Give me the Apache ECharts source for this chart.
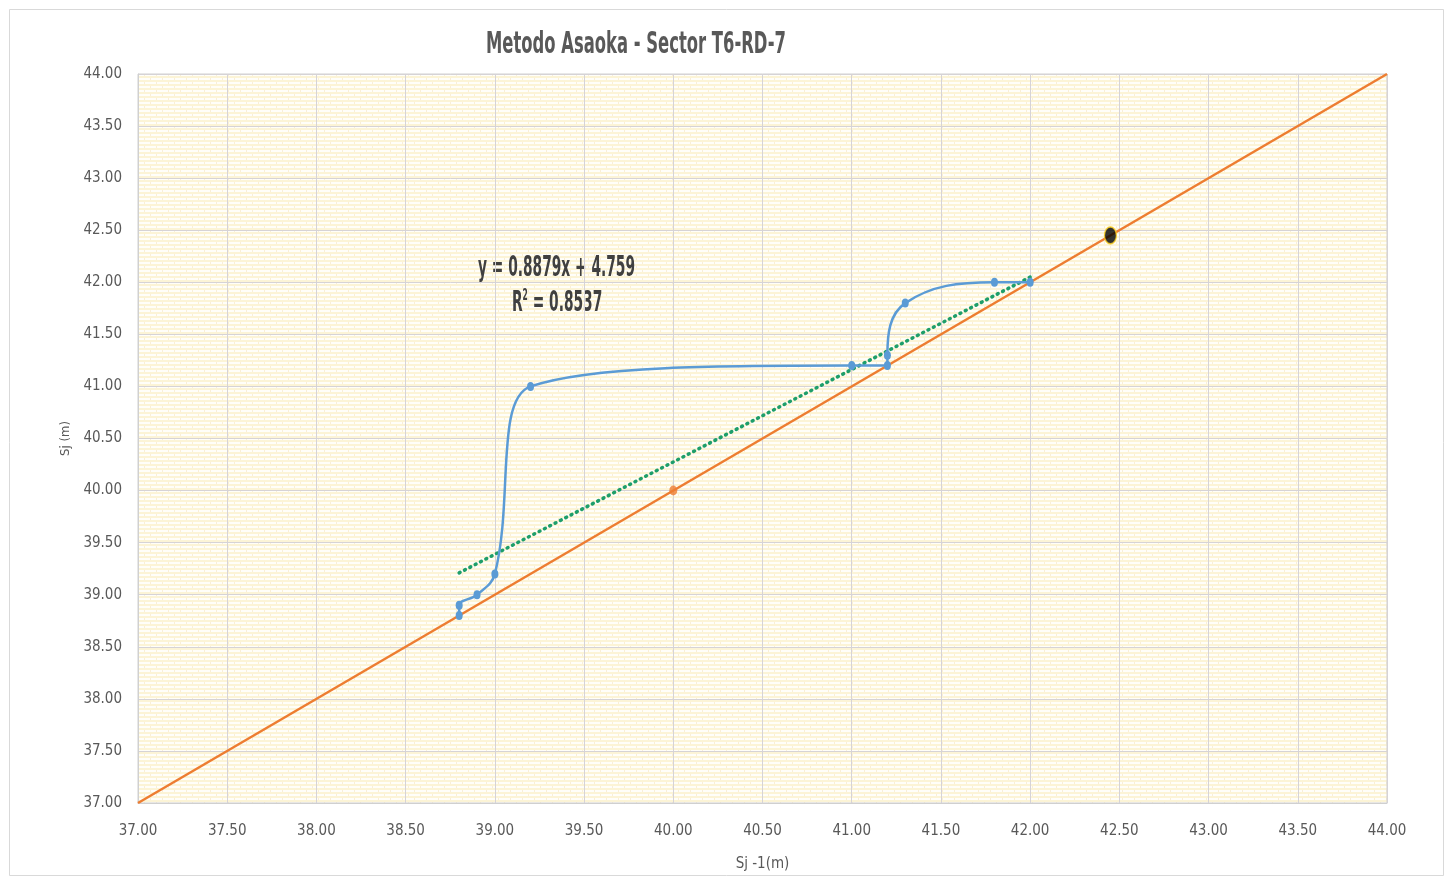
<!DOCTYPE html>
<html>
<head>
<meta charset="utf-8">
<script src="https://cdn.jsdelivr.net/npm/echarts@6/dist/echarts.min.js"></script>
<style>
html,body{margin:0;padding:0;background:#fff;}
#c{width:1449px;height:877px;}
</style>
</head>
<body>
<div id="c"></div>
<script>
// ---- data ----
var asaokaPoints = [
  [38.8, 38.8], [38.8, 38.9], [38.9, 39.0], [39.0, 39.2], [39.2, 41.0],
  [41.0, 41.2], [41.2, 41.2], [41.2, 41.3], [41.3, 41.8], [41.8, 42.0], [42.0, 42.0]
];
var identityLine = [[37, 37], [44, 44]];
var identityMarks = [[40, 40]];
var finalSettlement = [[42.45, 42.45]];
var trendLine = [[38.8, 39.21], [42.0, 42.05]];
var axisMin = 37, axisMax = 44, axisStep = 0.5;
var titleText = 'Metodo Asaoka - Sector T6-RD-7';
var xAxisName = 'Sj -1(m)';
var yAxisName = 'Sj (m)';
var eqText = 'y = 0.8879x + 4.759';
var r2Main = 'R';
var r2Rest = ' = 0.8537';

// ---- brick pattern for plot background ----
function brickPattern() {
  var cv = document.createElement('canvas');
  cv.width = 12; cv.height = 8;
  var g = cv.getContext('2d');
  g.fillStyle = '#fffef9';
  g.fillRect(0, 0, 12, 8);
  g.fillStyle = '#fcf4d6';
  g.fillRect(0, 0, 12, 2);
  g.fillRect(0, 4, 12, 2);
  g.fillStyle = '#f9efd8';
  g.fillRect(0, 2, 1, 2);
  g.fillRect(6, 6, 1, 2);
  return cv;
}

var FONT = "'Liberation Sans Narrow', 'DejaVu Sans Condensed', 'Noto Sans', sans-serif";
var mctx = document.createElement('canvas').getContext('2d');
function fitScale(str, font, target) {
  mctx.font = font;
  return target / mctx.measureText(str).width;
}
var titleFont = 'bold 31px ' + FONT;
var titleScale = fitScale(titleText, titleFont, 300);
var eqFont = 'bold 29px ' + FONT;
var eqScale = fitScale(eqText, eqFont, 157);

var chart = echarts.init(document.getElementById('c'), null, {renderer: 'canvas'});
var labelFmt = function (v) { return v.toFixed(2); };

chart.setOption({
  animation: false,
  backgroundColor: '#ffffff',
  grid: {
    left: 138, right: 62, top: 74, bottom: 74, show: true,
    backgroundColor: {image: brickPattern(), repeat: 'repeat'},
    borderColor: '#d0d0d0', borderWidth: 1
  },
  xAxis: {
    type: 'value', min: axisMin, max: axisMax, interval: axisStep,
    name: xAxisName, nameLocation: 'middle', nameGap: 54,
    nameTextStyle: {fontFamily: FONT, fontSize: 15, color: '#595959'},
    axisLine: {show: true, lineStyle: {color: '#d0d0d0'}},
    axisTick: {show: false},
    axisLabel: {formatter: labelFmt, fontFamily: FONT, fontSize: 15, color: '#595959', margin: 21},
    splitLine: {show: true, lineStyle: {color: '#d6d3d6', width: 1}}
  },
  yAxis: {
    type: 'value', min: axisMin, max: axisMax, interval: axisStep,
    name: yAxisName, nameLocation: 'middle', nameGap: 50,
    nameTextStyle: {fontFamily: FONT, fontSize: 13, color: '#595959'},
    axisLine: {show: true, lineStyle: {color: '#d0d0d0'}},
    axisTick: {show: false},
    axisLabel: {formatter: labelFmt, fontFamily: FONT, fontSize: 15, color: '#595959', margin: 16},
    splitLine: {show: true, lineStyle: {color: '#d6d3d6', width: 1}}
  },
  series: [
    {
      type: 'line', data: identityLine, symbol: 'none', z: 2,
      lineStyle: {color: '#ed7d31', width: 2.5}
    },
    {
      type: 'scatter', data: identityMarks, symbol: 'circle', symbolSize: [8, 10], z: 3,
      itemStyle: {color: '#ed7d31'}
    },
    {
      type: 'line', data: trendLine, symbol: 'none', z: 4,
      lineStyle: {color: '#1e9e6a', width: 3.5, type: [1, 5], cap: 'round'}
    },
    {
      type: 'line', data: asaokaPoints, smooth: 0.4, symbol: 'circle', symbolSize: [7, 9],
      showSymbol: true, z: 5,
      lineStyle: {color: '#5b9bd5', width: 2.5},
      itemStyle: {color: '#5b9bd5', borderWidth: 0}
    },
    {
      type: 'scatter', data: finalSettlement, symbol: 'circle', symbolSize: [12, 17], z: 6,
      itemStyle: {color: '#000000', borderColor: '#ffd21f', borderWidth: 1.5}
    }
  ],
  graphic: [
    {
      type: 'rect', left: 7, top: 7, shape: {width: 1434, height: 866},
      style: {fill: 'none', stroke: '#d9d9d9', lineWidth: 1}, silent: true, z: -1
    },
    {
      type: 'text', x: 486, y: 29, scaleX: titleScale,
      style: {text: titleText, font: titleFont, fill: '#595959'}
    },
    {
      type: 'text', x: 478, y: 254, scaleX: eqScale,
      style: {text: eqText, font: eqFont, fill: '#404040'}
    },
    {
      type: 'text', x: 512, y: 288, scaleX: eqScale,
      style: {
        text: r2Main + '{sup|2}' + r2Rest, font: eqFont, fill: '#404040',
        rich: {sup: {fontSize: 16, fontWeight: 'bold', fontFamily: FONT, fill: '#404040', verticalAlign: 'top', padding: [0, 0, 14, 0]}}
      }
    }
  ]
});
</script>
</body>
</html>
